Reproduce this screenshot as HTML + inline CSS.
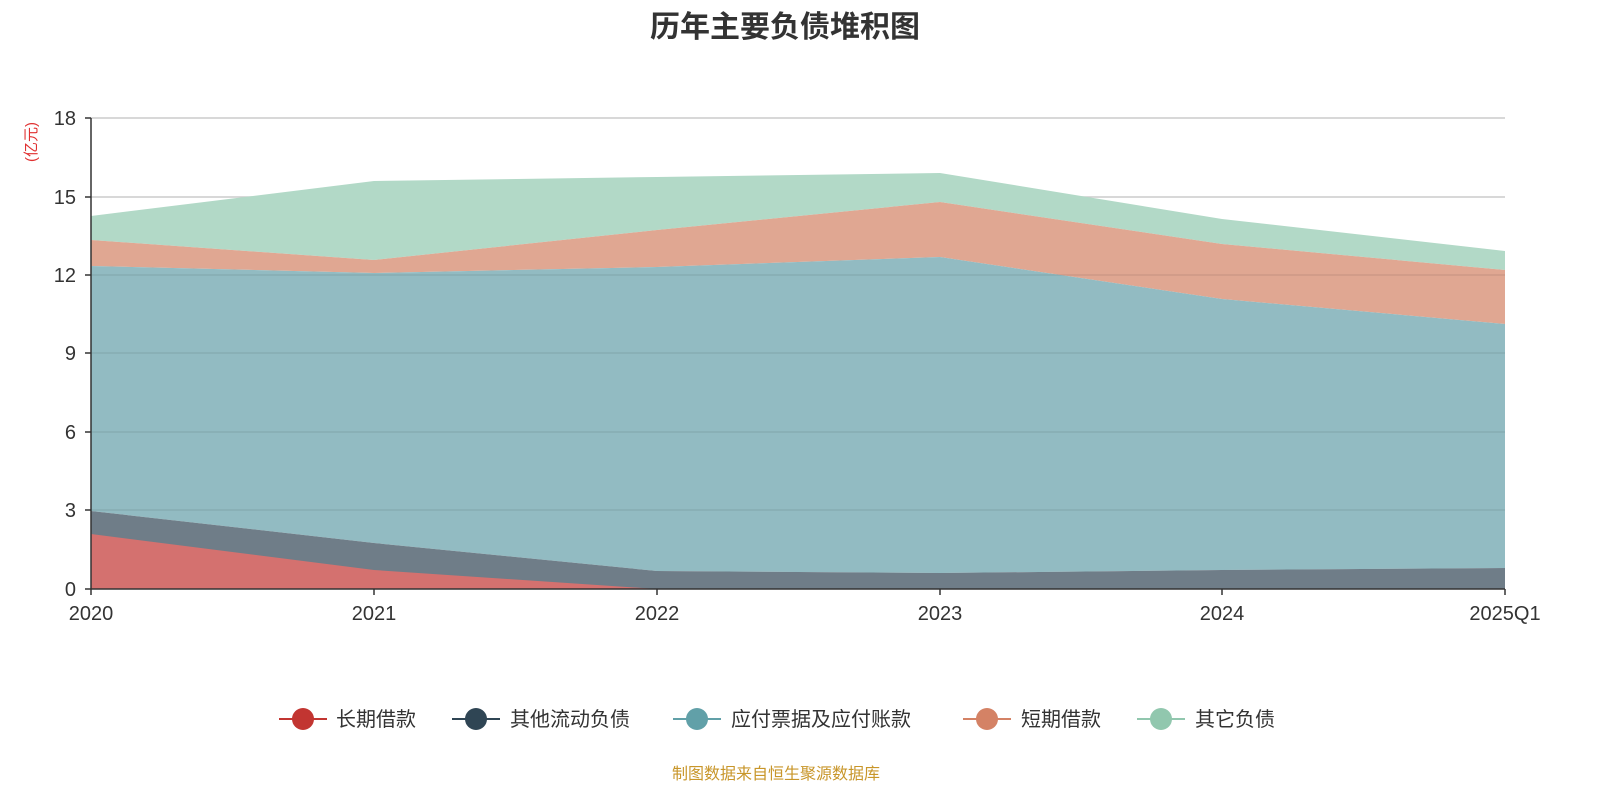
<!DOCTYPE html>
<html><head><meta charset="utf-8"><style>
body{margin:0;background:#fff;}
text{font-family:"Liberation Sans","Noto Sans CJK SC",sans-serif;}
</style></head><body>
<svg width="1600" height="800" xmlns="http://www.w3.org/2000/svg">
<rect width="1600" height="800" fill="#fff"/>
<text x="785" y="37" text-anchor="middle" font-size="30" font-weight="bold" fill="#333">历年主要负债堆积图</text>
<g stroke="#ccc" stroke-width="1.5">
<line x1="91" x2="1505" y1="118" y2="118"/><line x1="91" x2="1505" y1="197" y2="197"/>
<line x1="91" x2="1505" y1="275" y2="275"/><line x1="91" x2="1505" y1="353" y2="353"/>
<line x1="91" x2="1505" y1="432" y2="432"/><line x1="91" x2="1505" y1="510" y2="510"/>
</g>
<!-- 其它负债 -->
<polygon fill="#b2d9c7" points="91,216 374,181 657,177 940,173 1222,219 1505,251 1505,270 1222,244 940,202 657,230 374,260 91,240"/>
<!-- 短期借款 -->
<polygon fill="#e0a792" points="91,240 374,260 657,230 940,202 1222,244 1505,270 1505,324 1222,299 940,257 657,267 374,273 91,266"/>
<!-- 应付 -->
<polygon fill="#92bbc2" points="91,266 374,273 657,267 940,257 1222,299 1505,324 1505,568 1222,570 940,573 657,571 374,543 91,511"/>
<!-- 其他流动 -->
<polygon fill="#6f7d88" points="91,511 374,543 657,571 940,573 1222,570 1505,568 1505,589 91,589"/>
<!-- 长期借款 -->
<polygon fill="#d4716f" points="91,534 374,570 657,589 91,589"/>
<g stroke="#000" stroke-opacity="0.08" stroke-width="1.5">
<line x1="91" x2="1505" y1="275" y2="275"/><line x1="91" x2="1505" y1="353" y2="353"/>
<line x1="91" x2="1505" y1="432" y2="432"/><line x1="91" x2="1505" y1="510" y2="510"/>
</g>
<g stroke="#333" stroke-width="1.5">
<line x1="91" x2="91" y1="118" y2="589"/><line x1="91" x2="1505" y1="589" y2="589"/>
<line x1="85" x2="91" y1="118" y2="118"/><line x1="85" x2="91" y1="197" y2="197"/>
<line x1="85" x2="91" y1="275" y2="275"/><line x1="85" x2="91" y1="353" y2="353"/>
<line x1="85" x2="91" y1="432" y2="432"/><line x1="85" x2="91" y1="510" y2="510"/>
<line x1="85" x2="91" y1="589" y2="589"/>
<line x1="91" x2="91" y1="589" y2="595"/><line x1="374" x2="374" y1="589" y2="595"/>
<line x1="657" x2="657" y1="589" y2="595"/><line x1="940" x2="940" y1="589" y2="595"/>
<line x1="1222" x2="1222" y1="589" y2="595"/><line x1="1505" x2="1505" y1="589" y2="595"/>
</g>
<g font-size="20" fill="#333" text-anchor="end">
<text x="76" y="125">18</text><text x="76" y="204">15</text><text x="76" y="282">12</text>
<text x="76" y="360">9</text><text x="76" y="439">6</text><text x="76" y="517">3</text><text x="76" y="596">0</text>
</g>
<g font-size="20" fill="#333" text-anchor="middle">
<text x="91" y="620">2020</text><text x="374" y="620">2021</text><text x="657" y="620">2022</text>
<text x="940" y="620">2023</text><text x="1222" y="620">2024</text><text x="1505" y="620">2025Q1</text>
</g>
<text transform="translate(36,142) rotate(-90)" text-anchor="middle" font-size="15" fill="#e03030">(亿元)</text>
<g font-size="20" fill="#333">
<line x1="279" x2="327" y1="719" y2="719" stroke="#c23531" stroke-width="2"/><circle cx="303" cy="719" r="11" fill="#c23531"/><text x="336" y="726">长期借款</text>
<line x1="452" x2="500" y1="719" y2="719" stroke="#2f4554" stroke-width="2"/><circle cx="476" cy="719" r="11" fill="#2f4554"/><text x="510" y="726">其他流动负债</text>
<line x1="673" x2="721" y1="719" y2="719" stroke="#61a0a8" stroke-width="2"/><circle cx="697" cy="719" r="11" fill="#61a0a8"/><text x="731" y="726">应付票据及应付账款</text>
<line x1="963" x2="1011" y1="719" y2="719" stroke="#d48265" stroke-width="2"/><circle cx="987" cy="719" r="11" fill="#d48265"/><text x="1021" y="726">短期借款</text>
<line x1="1137" x2="1185" y1="719" y2="719" stroke="#91c7ae" stroke-width="2"/><circle cx="1161" cy="719" r="11" fill="#91c7ae"/><text x="1195" y="726">其它负债</text>
</g>
<text x="776" y="779" text-anchor="middle" font-size="16" fill="#c8962a">制图数据来自恒生聚源数据库</text>
</svg>
</body></html>
